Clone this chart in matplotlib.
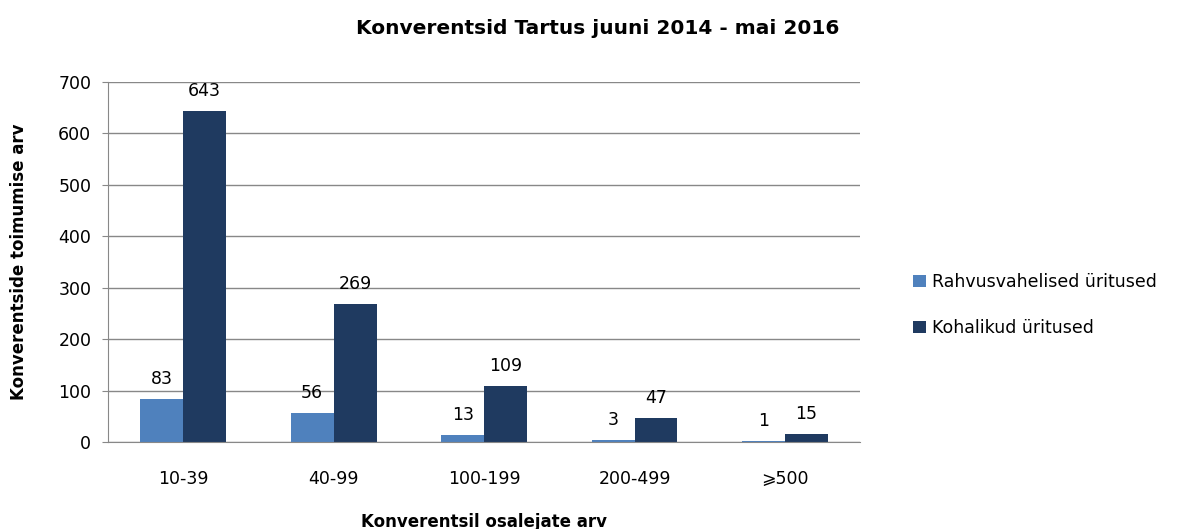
import matplotlib.pyplot as plt
import numpy as np

categories = ['10-39', '40-99', '100-199', '200-499', '\u2a7e500']
rahvusvahelised = [83, 56, 13, 3, 1]
kohalikud = [643, 269, 109, 47, 15]
series_names = ['Rahvusvahelised üritused', 'Kohalikud üritused']

plt.rcParams['font.family'] = ['DejaVu Sans']

fig = plt.figure(figsize=(12.03, 5.29), dpi=100)
ax = fig.add_axes([0.0898, 0.1645, 0.6252, 0.6805])

x = np.arange(len(categories))
w = 0.285
b1 = ax.bar(x - w / 2, rahvusvahelised, w, color='#4F81BD', label=series_names[0])
b2 = ax.bar(x + w / 2, kohalikud, w, color='#1F3A60', label=series_names[1])

for bars, vals in [(b1, rahvusvahelised), (b2, kohalikud)]:
    for bar, v in zip(bars, vals):
        ax.annotate(str(v), (bar.get_x() + bar.get_width() / 2, v),
                    xytext=(0, 8), textcoords='offset points',
                    ha='center', va='bottom', fontsize=12.5)

ax.set_xlim(-0.5, len(categories) - 0.5)
ax.set_ylim(0, 700)
ax.set_yticks(range(0, 701, 100))
ax.set_xticks(x)
ax.set_xticklabels(categories, fontsize=12.5)
ax.tick_params(axis='y', labelsize=12.5, length=4, color='#888888', pad=8)
ax.tick_params(axis='x', length=0, pad=20)

ax.yaxis.grid(True, color='#888888', linewidth=1)
ax.set_axisbelow(True)
for s in ['top', 'right']:
    ax.spines[s].set_visible(False)
for s in ['left', 'bottom']:
    ax.spines[s].set_color('#888888')

ax.set_ylabel('Konverentside toimumise arv', fontsize=12, fontweight='bold', labelpad=22)
ax.set_xlabel('Konverentsil osalejate arv', fontsize=12, fontweight='bold', labelpad=18)
fig.suptitle('Konverentsid Tartus juuni 2014 - mai 2016', fontsize=14.5, fontweight='bold',
             x=0.497, y=0.965)

ax.legend(loc='center left', bbox_to_anchor=(1.05, 0.38), frameon=False, fontsize=12.5,
          handlelength=0.7, handleheight=0.7, labelspacing=1.6, handletextpad=0.4)

fig.savefig('out.png', dpi=100)
